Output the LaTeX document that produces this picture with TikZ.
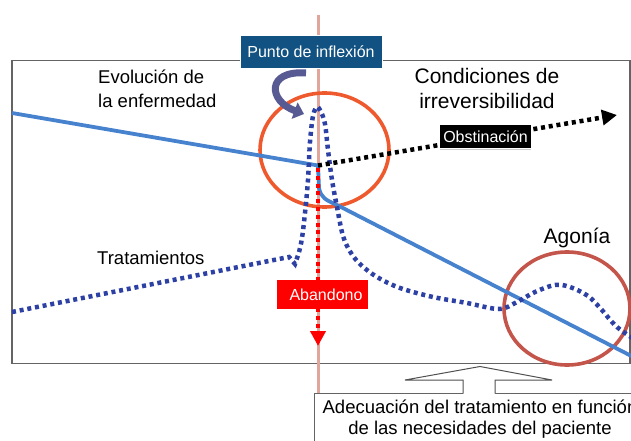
\documentclass[tikz,border=0pt]{standalone}
\usepackage{fontspec}
\setmainfont{Liberation Sans}
\usetikzlibrary{arrows.meta}
\definecolor{boxgray}{RGB}{100,100,100}
\definecolor{pinkline}{RGB}{225,165,155}
\definecolor{evoblue}{RGB}{70,130,205}
\definecolor{dotblue}{RGB}{45,65,165}
\definecolor{ringorange}{RGB}{238,90,45}
\definecolor{ringred}{RGB}{195,85,75}
\definecolor{labelblue}{RGB}{18,82,130}
\definecolor{curvearrow}{RGB}{88,90,148}
\tikzset{
  txt/.style={inner sep=0pt, text=black},
  tag/.style={inner sep=0pt, text=white, font=\fontsize{16}{19}\selectfont},
  dotline/.style={line width=4.5pt, dash pattern=on 4pt off 3.8pt},
  ring/.style={line width=3.6pt},
}
\begin{document}
\begin{tikzpicture}[x=1pt,y=-1pt]
\useasboundingbox (0,0) rectangle (631,441);
\clip (0,0) rectangle (631,441);
% main frame
\draw[boxgray, line width=1.5pt] (12,60.5) rectangle (630,363.5);
% vertical inflection line
\coordinate (vtop) at (318,15);
\coordinate (vbot) at (318,393);
\draw[pinkline, line width=3pt] (vtop) -- (vbot);
% rings
\draw[ringorange, ring] (324.5,150) ellipse [x radius=64.5, y radius=57];
\draw[ringred, ring] (567,308.5) ellipse [x radius=63, y radius=56.5];
% disease evolution line
\coordinate (junc) at (318,165.5);
\draw[evoblue, line width=3.8pt, line join=round] (12,113) -- (junc) -- (319,188)
  .. controls (321,198) and (326,200) .. (337,205) -- (645,363);
% treatments dotted line
\draw[dotblue, dotline] (12,312) -- (289,257) -- (295,264) -- plot[smooth, tension=0.55] coordinates {
  (295,264) (299,252) (302,238) (305,213) (308,180) (310,142) (313,116) (317,107)
  (321,112) (325,124) (328,150) (332,180) (337,207) (343,236) (351,253) (361,265)
  (377,277) (400,288) (433,297) (467,303) (499,309) (517,302) (535,292) (555,285)
  (570,287) (588,296) (601,309) (617,327) (640,343)};
% obstinacion arrow
\coordinate (obstEnd) at (617,115);
\draw[black, dotline, -{Triangle[length=15pt,width=15pt]}] (junc) -- (obstEnd);
% abandono arrow
\coordinate (abEnd) at (318,346);
\draw[red, dotline, -{Triangle[length=15pt,width=15pt]}] (318,168) -- (abEnd);
% labels on arrows
\node[tag, fill=black, minimum width=91pt, minimum height=23pt] (obst) at (485.5,136.5) {Obstinación};
\draw[black!20, line width=1pt] (obst.south west) ++(0,1.5) -- ([yshift=-1.5pt]obst.south east);
\node[tag, fill=red, minimum width=91pt, minimum height=29pt] (aband) at (322.5,294.5) {\hspace*{7pt}Abandono};
% inflection label
\node[tag, fill=labelblue, draw=white, line width=0.8pt, minimum width=142pt, minimum height=33pt] (infl) at (311,51.5) {Punto de inflexión};
\coordinate (curveStart) at (306,73);
\coordinate (curveEnd) at (304,114);
\draw[curvearrow, line width=7pt, -{Triangle[length=10pt,width=17pt]}] (curveStart)
  .. controls (266,70) and (268,101) .. (curveEnd);
% texts
\node[txt, anchor=base west, font=\fontsize{18.5}{22}\selectfont] (evo1) at (98,84) {Evolución de};
\node[txt, anchor=base west, font=\fontsize{18.5}{22}\selectfont] (evo2) at (98,107) {la enfermedad};
\node[txt, anchor=base, font=\fontsize{21}{25}\selectfont] (cond1) at (487,84) {Condiciones de};
\node[txt, anchor=base, font=\fontsize{21}{25}\selectfont] (cond2) at (487,109) {irreversibilidad};
\node[txt, anchor=base, font=\fontsize{21}{25}\selectfont] (agon) at (577,243) {Agonía};
\node[txt, anchor=base west, font=\fontsize{18.5}{22}\selectfont] (trat) at (97,264) {Tratamientos};
% bottom box
\draw[boxgray, line width=1pt, fill=white] (314,393) rectangle (720,470);
\node[txt, anchor=base, font=\fontsize{18.5}{22}\selectfont] (adec1) at (480,413) {Adecuación del tratamiento en función};
\node[txt, anchor=base, font=\fontsize{18.5}{22}\selectfont] (adec2) at (480,434) {de las necesidades del paciente};
% hollow up arrow
\fill[white] (463,394.5) -- (463,380) -- (405,380) -- (480,366.5) -- (552,380) -- (495,380) -- (495,394.5) -- cycle;
\draw[boxgray!80!black, line width=1pt, line join=miter] (463,393.5) -- (463,380) -- (405,380) -- (480,366.5) -- (552,380) -- (495,380) -- (495,393.5);
\end{tikzpicture}
\end{document}
